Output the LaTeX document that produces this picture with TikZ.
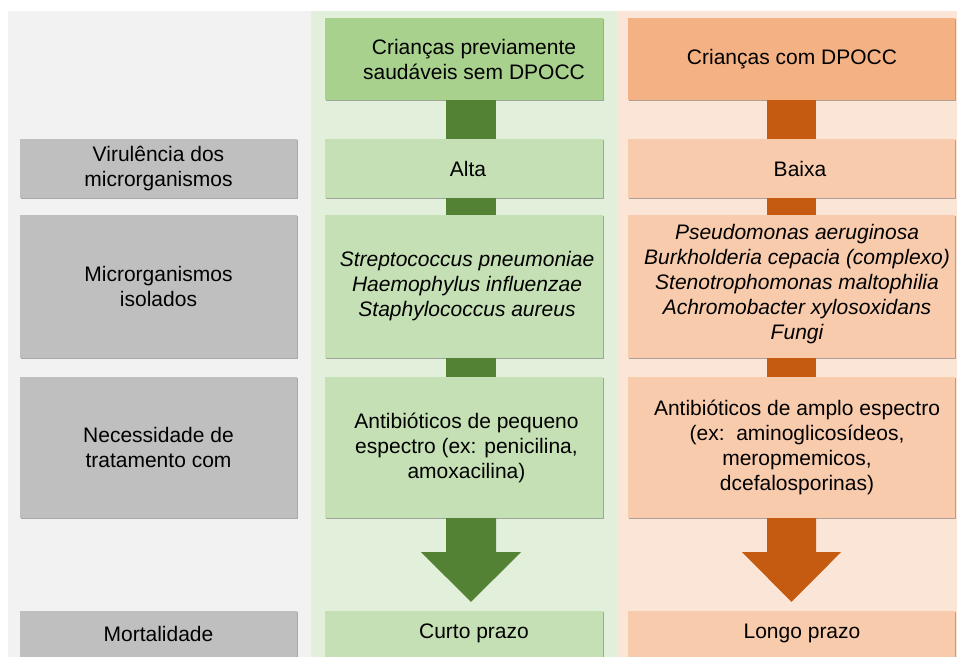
\documentclass[tikz,border=0pt]{standalone}
\usepackage{fontspec}
\setmainfont{Liberation Sans}
\usetikzlibrary{shadows,calc}
\definecolor{gpanel}{HTML}{F2F2F2}
\definecolor{gboxc}{HTML}{BFBFBF}
\definecolor{grpanel}{HTML}{E2EFDA}
\definecolor{grhead}{HTML}{A9D18E}
\definecolor{grbox}{HTML}{C5E0B4}
\definecolor{grdark}{HTML}{548235}
\definecolor{orpanel}{HTML}{FBE5D6}
\definecolor{orhead}{HTML}{F4B183}
\definecolor{orbox}{HTML}{F8CBAD}
\definecolor{ordark}{HTML}{C55A11}
\begin{document}
\begin{tikzpicture}[x=1pt,y=-1pt,
  shbox/.style={draw=none, inner sep=0pt, rectangle,
    drop shadow={shadow xshift=1.3pt, shadow yshift=-1.3pt, fill=black, opacity=0.3}},
  graybox/.style={shbox, fill=gboxc, minimum width=277},
  greenbox/.style={shbox, fill=grbox, minimum width=278},
  orangebox/.style={shbox, fill=orbox, minimum width=327},
  txt/.style={inner sep=0pt, align=center, font=\fontsize{21}{25}\selectfont, text=black},
  itxt/.style={txt, font=\fontsize{21}{25}\selectfont\itshape},
  gconn/.style={draw=grdark, line width=50pt},
  oconn/.style={draw=ordark, line width=49pt}]
\useasboundingbox (0,0) rectangle (957,656);
\fill[white] (0,0) rectangle (957,656);
% panels
\fill[gpanel] (8,11) rectangle (311,700);
\fill[grpanel] (311,11) rectangle (617,700);
\fill[orpanel] (617,11) rectangle (957,700);
% gray column
\node[graybox, minimum height=59] (v0) at (158.5,168.5) {};
\node[graybox, minimum height=143] (m0) at (158.5,286.5) {};
\node[graybox, minimum height=141] (n0) at (158.5,447.5) {};
\node[graybox, minimum height=69] (r0) at (158.5,645.5) {};
\node[txt] (v0t) at (v0.center) {Virulência dos\\microrganismos};
\node[txt] (m0t) at (m0.center) {Microrganismos\\isolados};
\node[txt] (n0t) at (n0.center) {Necessidade de\\tratamento com};
\node[txt] (r0t) at (158.5,633.5) {Mortalidade};
% green column
\node[shbox, fill=grhead, minimum width=278, minimum height=82] (g0) at (464,59) {};
\node[greenbox, minimum height=59] (g1) at (464,168.5) {};
\node[greenbox, minimum height=143] (g2) at (464,286.5) {};
\node[greenbox, minimum height=141] (g3) at (464,447.5) {};
\node[greenbox, minimum height=69] (g4) at (464,645.5) {};
\node[txt] (g0t) at (474,59) {Crianças previamente\\saudáveis sem DPOCC};
\node[txt] (g1t) at (468,168.5) {Alta};
\node[itxt] (g2t) at (467,286.5) {Streptococcus pneumoniae\\Haemophylus influenzae\\Staphylococcus aureus};
\node[txt] (g3t) at (466.5,447.5) {Antibióticos de pequeno\\espectro (ex: penicilina,\\amoxacilina)};
\node[txt] (g4t) at (474,633.5) {Curto prazo};
% orange column
\node[shbox, fill=orhead, minimum width=327, minimum height=82] (o0) at (791.5,59) {};
\node[orangebox, minimum height=59] (o1) at (791.5,168.5) {};
\node[orangebox, minimum height=143] (o2) at (791.5,286.5) {};
\node[orangebox, minimum height=141] (o3) at (791.5,447.5) {};
\node[orangebox, minimum height=69] (o4) at (791.5,645.5) {};
\node[txt] (o0t) at (792,59) {Crianças com DPOCC};
\node[txt] (o1t) at (800,168.5) {Baixa};
\node[itxt] (o2t) at (797,284) {Pseudomonas aeruginosa\\Burkholderia cepacia (complexo)\\Stenotrophomonas maltophilia\\Achromobacter xylosoxidans\\Fungi};
\node[txt] (o3t) at (797,447.5) {Antibióticos de amplo espectro\\(ex:\ \ aminoglicosídeos,\\meropmemicos,\\dcefalosporinas)};
\node[txt] (o4t) at (802,633.5) {Longo prazo};
% connector axes
\coordinate (gx) at (471,0);
\coordinate (ox) at (791.5,0);
% green connectors
\draw[gconn] (g0.south -| gx) -- (g1.north -| gx);
\draw[gconn] (g1.south -| gx) -- (g2.north -| gx);
\draw[gconn] (g2.south -| gx) -- (g3.north -| gx);
\coordinate (ga) at (g3.south -| gx);
\coordinate (gb) at (g4.north -| gx);
\fill[grdark] ($(ga)+(-25,0)$) -- ($(ga)+(25,0)$) -- ($(ga)+(25,34)$) -- ($(ga)+(50,34)$)
  -- ($(gb)+(0,-9)$) -- ($(ga)+(-50,34)$) -- ($(ga)+(-25,34)$) -- cycle;
% orange connectors
\draw[oconn] (o0.south -| ox) -- (o1.north -| ox);
\draw[oconn] (o1.south -| ox) -- (o2.north -| ox);
\draw[oconn] (o2.south -| ox) -- (o3.north -| ox);
\coordinate (oa) at (o3.south -| ox);
\coordinate (ob) at (o4.north -| ox);
\fill[ordark] ($(oa)+(-24.5,0)$) -- ($(oa)+(24.5,0)$) -- ($(oa)+(24.5,34)$) -- ($(oa)+(49.5,34)$)
  -- ($(ob)+(0,-9)$) -- ($(oa)+(-49.5,34)$) -- ($(oa)+(-24.5,34)$) -- cycle;
\end{tikzpicture}
\end{document}
